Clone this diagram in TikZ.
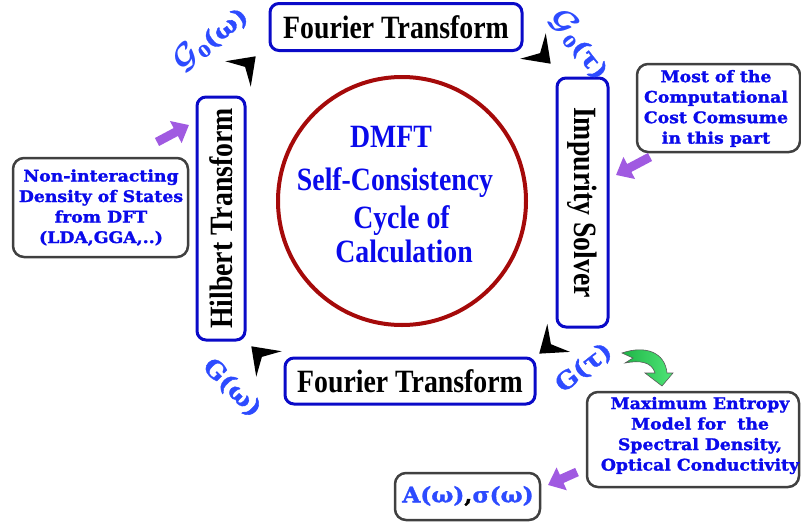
\documentclass[tikz,border=0pt]{standalone}
\usepackage{amsmath,bm}
\usepackage{fontspec}
\usetikzlibrary{arrows.meta}
\newfontfamily\tnr[FakeStretch=0.855]{Liberation Serif}
\newfontfamily\slab[FakeStretch=1.08,FakeBold=1.5]{DejaVu Serif}
\definecolor{boxblue}{RGB}{10,10,200}
\definecolor{txtblue}{RGB}{10,10,235}
\definecolor{lblblue}{RGB}{45,75,255}
\definecolor{cycred}{RGB}{165,10,10}
\definecolor{cgray}{RGB}{64,64,64}
\definecolor{purp}{RGB}{160,90,225}
\definecolor{grnA}{RGB}{30,180,70}
\definecolor{grnB}{RGB}{80,230,120}
\newcommand{\bigG}{\scalebox{1.35}{$\bm{\mathcal{G}}$}}
\begin{document}
\begin{tikzpicture}[x=1pt,y=-1pt,
 stagebox/.style={draw=boxblue, line width=3pt, rounded corners=9pt, inner sep=0pt,
   font=\tnr\bfseries\fontsize{32.5}{36}\selectfont, text=black},
 callout/.style={draw=cgray, line width=2.5pt, rounded corners=11pt, inner sep=0pt, fill=white},
 ctext/.style={font=\slab\bfseries\fontsize{16}{20.5}\selectfont, text=txtblue, align=center},
 glabel/.style={font=\slab\bfseries\fontsize{24}{26}\selectfont, text=lblblue, inner sep=0pt},
 ctitle/.style={font=\tnr\bfseries\fontsize{32.5}{36}\selectfont, text=txtblue, inner sep=0pt, anchor=base},
 fat/.style={line width=9pt, draw=purp, -{Triangle[length=15pt,width=24pt]}},
 ahead/.pic={\fill[black] (1,0) -- (-24,18) -- (-14,0) -- (-24,-18) -- cycle;},
]
\useasboundingbox (0,0) rectangle (801,522);

% stage boxes
\node[stagebox, minimum width=252pt, minimum height=47pt] (ftop) at (396,27) {Fourier Transform};
\node[stagebox, minimum width=250pt, minimum height=46pt] (fbot) at (410,381) {Fourier Transform};
\node[stagebox, rotate=-90, minimum width=249pt, minimum height=51pt] (imp) at (582.5,202.5) {Impurity Solver};
\node[stagebox, rotate=90, minimum width=243pt, minimum height=48pt] (hil) at (221,218.5) {Hilbert Transform};

% central circle
\node[circle, draw=cycred, line width=4pt, minimum size=248pt, inner sep=0pt] (cyc) at (402,201) {};
\node[ctitle] (c1) at (391,147) {DMFT};
\node[ctitle] (c2) at (395,190) {Self-Consistency};
\node[ctitle] (c3) at (401.5,228) {Cycle of};
\node[ctitle] (c4) at (404,262) {Calculation};

% cycle arrowheads
\pic[rotate=45] at (255,57) {ahead};
\pic[rotate=-45] at (550,63) {ahead};
\pic[rotate=-141] at (540,353) {ahead};
\pic[rotate=135] at (252,347) {ahead};

% labels
\node[glabel, rotate=38] (g0w) at (210,38) {\bigG\raisebox{-3pt}{\fontsize{16}{16}\selectfont 0}(ω)};
\node[glabel, rotate=-52] (g0t) at (580,44) {\bigG\raisebox{-3pt}{\fontsize{16}{16}\selectfont 0}(τ)};
\node[glabel, rotate=-45] (gw) at (232,388) {G(ω)};
\node[glabel, rotate=38] (gt) at (584,368) {G(τ)};

% callouts
\node[callout, minimum width=163pt, minimum height=88pt] (most) at (718.5,108) {};
\node[ctext] (mostt) at (716,108.5) {Most of the\\Computational\\Cost Comsume\\in this part};
\node[callout, minimum width=175pt, minimum height=99pt] (dos) at (100.5,207.5) {};
\node[ctext] (dost) at (101,207.5) {Non-interacting\\Density of States\\from DFT\\(LDA,GGA,..)};
\node[callout, minimum width=212pt, minimum height=95pt] (mem) at (693,439.5) {};
\node[ctext] (memt) at (700,435.5) {Maximum Entropy\\Model for\ \ the\\Spectral Density,\\Optical Conductivity};
\node[callout, minimum width=145pt, minimum height=47pt] (res) at (467.5,496.5) {};
\node[font=\slab\bfseries\fontsize{21.5}{24}\selectfont, text=lblblue, inner sep=0pt] (rest) at (468,496) {A(ω)\textcolor{black}{,}σ(ω)};

% purple arrows
\coordinate (p1t) at (650,157); \coordinate (p1h) at (616,175);
\coordinate (p2t) at (157,142); \coordinate (p2h) at (189,125);
\coordinate (p3t) at (577,472); \coordinate (p3h) at (548,485);
\draw[fat] (p1t) -- (p1h);
\draw[fat] (p2t) -- (p2h);
\draw[fat] (p3t) -- (p3h);

% green curved arrow
\shadedraw[left color=grnA, right color=grnB, draw=black!65, line width=0.6pt]
 (622,353) .. controls (645,345) and (665,352) .. (667,373) -- (673,373) -- (662,386)
 -- (645,373) -- (655,373) .. controls (652,362) and (640,360) .. (625,363) -- (633,358) -- cycle;
\end{tikzpicture}
\end{document}
